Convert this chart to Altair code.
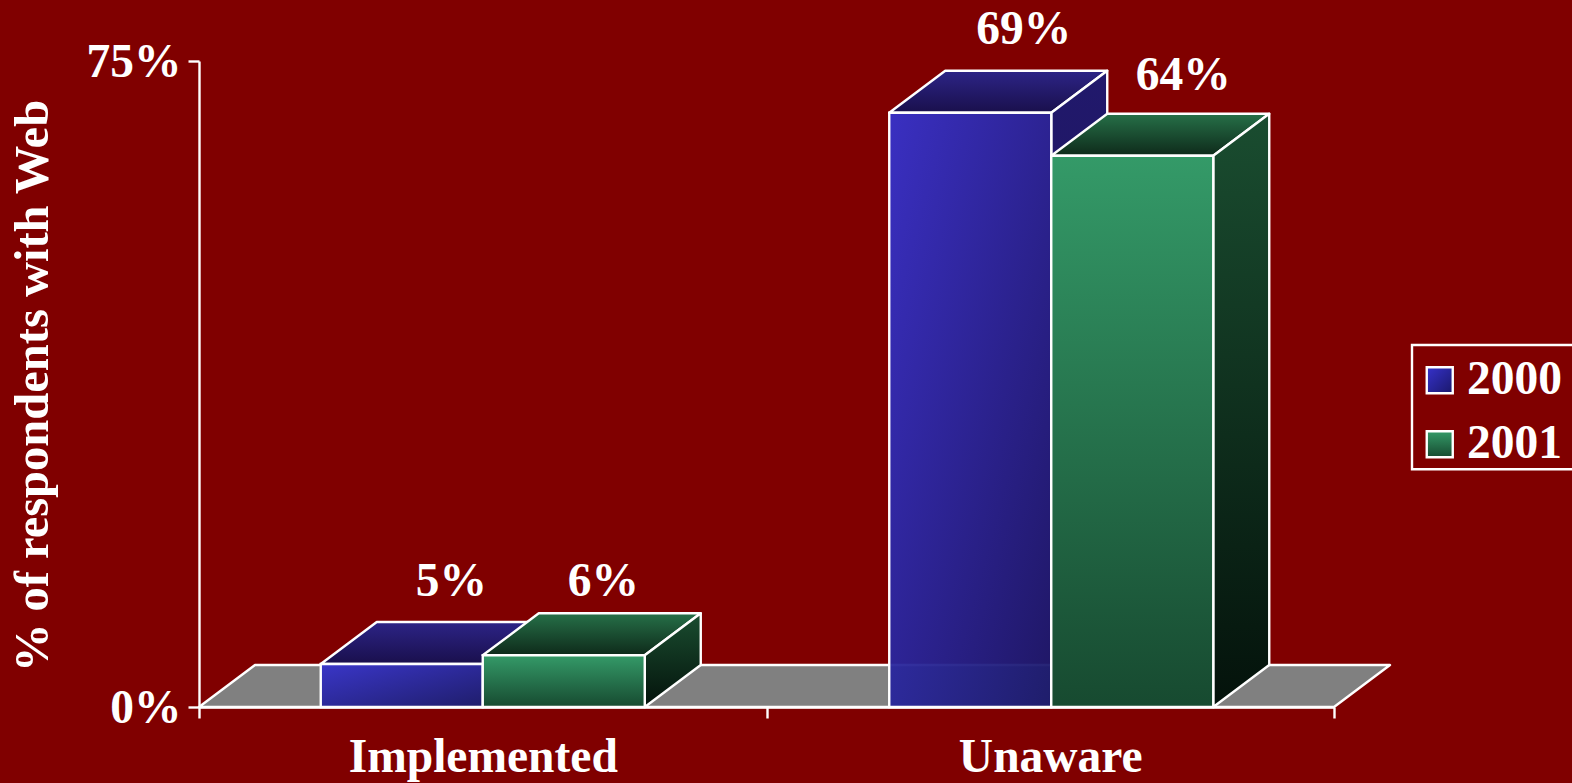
import altair as alt
import pandas as pd

# Survey figures
categories = ["Implemented", "Unaware"]
years = ["2000", "2001"]
values_2000 = [5, 69]
values_2001 = [6, 64]
y_ticks = [0, 75]

# Layout constants, in axis units (x: one category = 1, y: percent)
PLOT_W, PLOT_H = 1135, 646
BAR_W = 162 / 567.5
DEPTH_X = 56 / 567.5
DEPTH_Y = 42 / (PLOT_H / 75)
FONT = "Liberation Serif"
FONT_SIZE = 47.5
WHITE = "#ffffff"
EDGE = 2.4

# Group shift per category and label shifts per bar
# (x in category units, y in percent points above the box top)
group_shift = {"Implemented": 0, "Unaware": 1 / 567.5}
label_shift = {
    ("Implemented", "2000"): (-6.5 / 567.5, 3.0),
    ("Implemented", "2001"): (-16.5 / 567.5, 2.0),
    ("Unaware", "2000"): (-2.5 / 567.5, 3.05),
    ("Unaware", "2001"): (-5 / 567.5, 2.75),
}


def gradient(x2, y2, start, end):
    return alt.Gradient(
        gradient="linear", x1=0, y1=0, x2=x2, y2=y2,
        stops=[alt.GradientStop(color=start, offset=0), alt.GradientStop(color=end, offset=1)],
    )


def gradient_expr(x2, y2, start, end):
    return {"expr": "{gradient:'linear',x1:0,y1:0,x2:%s,y2:%s,stops:[{offset:0,color:'%s'},{offset:1,color:'%s'}]}"
            % (x2, y2, start, end)}


face_fill = {
    "2000": {"top": gradient(0, 1, "#28268e", "#141050"), "side": gradient(0, 1, "#1c1a72", "#13104e")},
    "2001": {"top": gradient(0, 1, "#267048", "#0e2a1a"), "side": gradient(0, 1, "#1a4d30", "#04120b")},
}
face_opacity = {"2000": 0.95, "2001": 1}

# One row per bar
bars = []
for i, cat in enumerate(categories):
    for j, (year, vals) in enumerate(zip(years, [values_2000, values_2001])):
        x0 = i + 0.5 - BAR_W + j * BAR_W + group_shift[cat]
        shift = label_shift[(cat, year)]
        bars.append({
            "bar": f"{cat} {year}", "year": year, "x0": x0, "x1": x0 + BAR_W, "value": vals[i],
            "label": f"{vals[i]}%",
            "label_x": x0 + BAR_W / 2 + DEPTH_X + shift[0],
            "label_y": vals[i] + DEPTH_Y + shift[1],
        })
bars = pd.DataFrame(bars)

# Oblique faces as areas between a lower and an upper edge
top_rows, side_rows = [], []
for b in bars.itertuples():
    v = b.value
    top_rows += [
        {"bar": b.bar, "year": b.year, "x": b.x0, "lo": v, "hi": v},
        {"bar": b.bar, "year": b.year, "x": b.x0 + DEPTH_X, "lo": v, "hi": v + DEPTH_Y},
        {"bar": b.bar, "year": b.year, "x": b.x1, "lo": v, "hi": v + DEPTH_Y},
        {"bar": b.bar, "year": b.year, "x": b.x1 + DEPTH_X, "lo": v + DEPTH_Y, "hi": v + DEPTH_Y},
    ]
    side_rows += [
        {"bar": b.bar, "year": b.year, "x": b.x1, "lo": 0, "hi": v},
        {"bar": b.bar, "year": b.year, "x": b.x1 + DEPTH_X, "lo": DEPTH_Y, "hi": v + DEPTH_Y},
    ]
tops = pd.DataFrame(top_rows)
sides = pd.DataFrame(side_rows)

floor = pd.DataFrame({
    "x": [0, DEPTH_X, len(categories), len(categories) + DEPTH_X],
    "lo": [0, 0, 0, DEPTH_Y],
    "hi": [0, DEPTH_Y, DEPTH_Y, DEPTH_Y],
})

x_scale = alt.Scale(domain=[0, len(categories)], nice=False, zero=False)
y_scale = alt.Scale(domain=[y_ticks[0], y_ticks[1]], nice=False)

x_axis = alt.Axis(
    values=[0, 0.5, 1, 1.5, 2], title=None, grid=False,
    labelExpr="datum.value == 0.5 ? '%s' : datum.value == 1.5 ? '%s' : ''" % tuple(categories),
    labelFont=FONT, labelFontWeight="bold", labelFontSize=FONT_SIZE, labelColor=WHITE, labelPadding=15,
    labelFlush=False, labelOverlap=False, labelBaseline="top", labelLimit=600,
    domainColor=WHITE, domainWidth=EDGE, tickSize=11, tickWidth=EDGE,
    tickColor=alt.condition("datum.value % 1 == 0", alt.value(WHITE), alt.value("transparent")),
)
y_axis = alt.Axis(
    values=y_ticks, title="% of respondents with Web", grid=False,
    labelExpr="datum.value + '%'",
    labelFont=FONT, labelFontWeight="bold", labelFontSize=FONT_SIZE, labelColor=WHITE, labelPadding=7,
    labelOffset=1.5,
    titleFont=FONT, titleFontWeight="bold", titleFontSize=48.5, titleColor=WHITE,
    titleX=-151.5, titleY=324.5, titleBaseline="alphabetic",
    domainColor=WHITE, domainWidth=EDGE, tickColor=WHITE, tickSize=11, tickWidth=EDGE,
)

floor_layer = alt.Chart(floor).mark_area(
    fill="#808080", stroke=WHITE, strokeWidth=EDGE, strokeJoin="round"
).encode(
    x=alt.X("x:Q", scale=x_scale, axis=x_axis),
    y=alt.Y("lo:Q", scale=y_scale, axis=y_axis),
    y2="hi:Q",
)

fill_scale = alt.Scale(
    domain=years,
    range=[
        gradient_expr(1, 1, "#3632cc", "#1a186a"),
        gradient_expr(0, 1, "#349a68", "#174a30"),
    ],
)

legend = alt.Legend(
    title=" ", titleFontSize=9, titlePadding=0, orient="none", legendX=1213, legendY=284, zindex=0,
    labelFont=FONT, labelFontWeight="bold", labelFontSize=FONT_SIZE, labelColor=WHITE, labelOffset=3.5,
    symbolType="square", symbolSize=676, symbolStrokeColor=WHITE, symbolStrokeWidth=EDGE,
    symbolOffset=1.5, padding=2.5, rowPadding=15, symbolOpacity=1,
)


def series_layers(year):
    opacity = face_opacity[year]
    top = alt.Chart(tops[tops.year == year]).mark_area(
        fill=face_fill[year]["top"], fillOpacity=opacity, stroke=WHITE, strokeWidth=EDGE, strokeJoin="round"
    ).encode(x=alt.X("x:Q", scale=x_scale), y=alt.Y("lo:Q", scale=y_scale), y2="hi:Q", detail="bar:N")
    side = alt.Chart(sides[sides.year == year]).mark_area(
        fill=face_fill[year]["side"], fillOpacity=opacity, stroke=WHITE, strokeWidth=EDGE, strokeJoin="round"
    ).encode(x=alt.X("x:Q", scale=x_scale), y=alt.Y("lo:Q", scale=y_scale), y2="hi:Q", detail="bar:N")
    front = alt.Chart(bars[bars.year == year]).mark_rect(
        fillOpacity=opacity, stroke=WHITE, strokeWidth=EDGE
    ).encode(
        x=alt.X("x0:Q", scale=x_scale),
        x2="x1:Q",
        y=alt.Y("datum_zero:Q", scale=y_scale),
        y2="value:Q",
        fill=alt.Fill("year:N", scale=fill_scale, legend=legend),
    ).transform_calculate(datum_zero="0")
    return [top, side, front]


labels = alt.Chart(bars).mark_text(
    font=FONT, fontWeight="bold", fontSize=FONT_SIZE, color=WHITE, baseline="alphabetic", align="center"
).encode(
    x=alt.X("label_x:Q", scale=x_scale),
    y=alt.Y("label_y:Q", scale=y_scale),
    text="label:N",
)

legend_anchor = pd.DataFrame({"k": [0]})

# Thin dark band across the 2001 legend swatch
swatch_band = alt.Chart(legend_anchor).mark_rule(color="#800000", strokeWidth=1.5).encode(
    x=alt.value(1229), x2=alt.value(1252), y=alt.value(376.7)
)

# Legend frame, running off the right edge of the page
legend_frame = alt.Chart(legend_anchor).mark_rect(
    filled=False, stroke=WHITE, strokeWidth=EDGE
).encode(x=alt.value(1213), x2=alt.value(1385), y=alt.value(284), y2=alt.value(408.3))

chart = alt.layer(
    floor_layer, *series_layers("2000"), *series_layers("2001"), labels, legend_frame, swatch_band
).properties(
    width=PLOT_W,
    height=PLOT_H,
    padding={"left": 199, "top": 61, "right": 238, "bottom": 76},
    autosize=alt.AutoSizeParams(type="none"),
    background="#800000",
).configure_view(stroke=None)

chart.save("out.html", embed_options={"renderer": "svg", "actions": False})
